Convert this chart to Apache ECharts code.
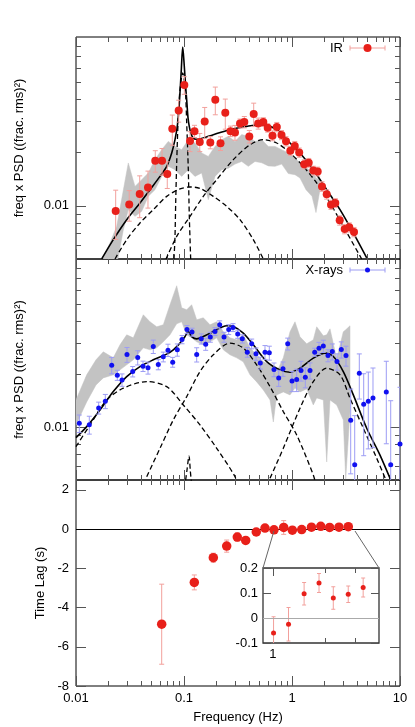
<!DOCTYPE html>
<html><head><meta charset="utf-8">
<script src="https://cdn.jsdelivr.net/npm/echarts@6/dist/echarts.min.js"></script>
<style>html,body{margin:0;padding:0;background:#fff}#c{width:415px;height:727px}</style>
</head><body><div id="c"></div>
<script>
// ---------------- DATA ----------------
// Panel 1: IR power spectrum (freq x PSD)
const irFreq = [0.0233, 0.0311, 0.0389, 0.0464, 0.0542, 0.0626, 0.0700, 0.0779, 0.0893, 0.1007, 0.1137, 0.1251, 0.1400, 0.1555, 0.1752, 0.1949, 0.2178, 0.2412, 0.2695, 0.2966, 0.3301, 0.3618, 0.4024, 0.4419, 0.4864, 0.5424, 0.5957, 0.6596, 0.7233, 0.7995, 0.8800, 0.9645, 1.061, 1.166, 1.297, 1.428, 1.575, 1.730, 1.896, 2.096, 2.297, 2.517, 2.765, 3.076, 3.393, 3.751];
const irPow = [0.00935, 0.01018, 0.01166, 0.0127, 0.01798, 0.01798, 0.01512, 0.02728, 0.03461, 0.04818, 0.02324, 0.0264, 0.02294, 0.02996, 0.02279, 0.03979, 0.02253, 0.0336, 0.0264, 0.02596, 0.02922, 0.02976, 0.02465, 0.03303, 0.02922, 0.02976, 0.02757, 0.02491, 0.02789, 0.02513, 0.02318, 0.02048, 0.0218, 0.02001, 0.01718, 0.01752, 0.01583, 0.01563, 0.01287, 0.0116, 0.01014, 0.01037, 0.00827, 0.00739, 0.00755, 0.00711];
const irErr = [0.0029, 0.0020, 0.0031, 0.0030, 0.0025, 0.0031, 0.0026, 0.0053, 0.0049, 0.0055, 0.0030, 0.0021, 0.0027, 0.0060, 0.0018, 0.0071, 0.0020, 0.0065, 0.0018, 0.0025, 0.0017, 0.0022, 0.0020, 0.0050, 0.0021, 0.0017, 0.0015, 0.0016, 0.0017, 0.0015, 0.0014, 0.0012, 0.0013, 0.0012, 0.0010, 0.0010, 0.0009, 0.0009, 0.0008, 0.0007, 0.0006, 0.0006, 0.0005, 0.00045, 0.00045, 0.00043];
// grey band in panel 1
const band1Freq = [0.01789, 0.02064, 0.02381, 0.02742, 0.03049, 0.03518, 0.04058, 0.04671, 0.05389, 0.06215, 0.07154, 0.08254, 0.09521, 0.1096, 0.1264, 0.1458, 0.1679, 0.1936, 0.2234, 0.2572, 0.2966, 0.3422, 0.3939, 0.4543, 0.524, 0.6035, 0.6961, 0.8028, 0.924, 1.066, 1.186, 1.348, 1.532, 1.668, 1.816];
const band1Lo = [0.0045, 0.0045, 0.0046, 0.0073, 0.0095, 0.00871, 0.0093, 0.0113, 0.01233, 0.01466, 0.0167, 0.016, 0.01466, 0.016, 0.01466, 0.01533, 0.01083, 0.01466, 0.016, 0.0163, 0.0172, 0.0178, 0.0167, 0.0178, 0.0175, 0.0168, 0.0167, 0.0172, 0.0152, 0.01499, 0.01436, 0.01233, 0.0113, 0.00915, 0.01233];
const band1Hi = [0.00518, 0.00616, 0.00765, 0.01223, 0.01746, 0.01287, 0.01405, 0.01533, 0.01823, 0.02075, 0.02312, 0.02166, 0.02075, 0.02363, 0.02265, 0.01989, 0.01902, 0.02166, 0.02363, 0.02468, 0.02312, 0.02525, 0.02468, 0.02312, 0.02363, 0.02166, 0.02166, 0.02075, 0.01989, 0.01863, 0.01746, 0.01643, 0.0156, 0.01436, 0.01405];
// model curves, panel 1
const irModelFreq = [0.0173, 0.02215, 0.02948, 0.03914, 0.04843, 0.05995, 0.06917, 0.07696, 0.08254, 0.08706, 0.09048, 0.09441, 0.09727, 0.1004, 0.1033, 0.1059, 0.1089, 0.112, 0.1161, 0.122, 0.1292, 0.1407, 0.1868, 0.2667, 0.3808, 0.5055, 0.6257, 0.7743, 0.9583, 1.186, 1.575, 2.096, 2.783, 3.695, 4.918];
const irModelPow = [0.005003, 0.00643, 0.00834, 0.01037, 0.01233, 0.01466, 0.0167, 0.01989, 0.02363, 0.02874, 0.03778, 0.05879, 0.07901, 0.06275, 0.04837, 0.03979, 0.03148, 0.028, 0.02555, 0.02417, 0.02376, 0.02385, 0.02523, 0.02693, 0.02811, 0.02874, 0.02811, 0.02634, 0.02265, 0.01989, 0.016, 0.01233, 0.0095, 0.00702, 0.00507];
const irQpoFreq = [0.08082, 0.08254, 0.08377, 0.08558, 0.08854, 0.09183, 0.09727, 0.1028, 0.1059, 0.1096, 0.112, 0.1153];
const irQpoPow = [0.005003, 0.00671, 0.01037, 0.01746, 0.03201, 0.04532, 0.05631, 0.04532, 0.02938, 0.016, 0.00871, 0.005003];
const irLowFreq = [0.02297, 0.02948, 0.03914, 0.05195, 0.06917, 0.09183, 0.1137, 0.1407, 0.1868, 0.2485, 0.3301, 0.4382, 0.5424];
const irLowPow = [0.005, 0.00643, 0.007995, 0.0095, 0.0113, 0.01245, 0.01277, 0.01254, 0.0113, 0.00992, 0.00834, 0.00643, 0.005];
const irHighFreq = [0.06813, 0.08558, 0.1137, 0.1509, 0.2008, 0.2861, 0.4084, 0.5424, 0.7217, 0.9583, 1.272, 1.693, 2.249, 2.985, 4.42];
const irHighPow = [0.005, 0.00671, 0.00871, 0.0113, 0.01405, 0.01823, 0.02215, 0.02363, 0.02265, 0.01989, 0.0167, 0.01345, 0.01037, 0.00765, 0.005];

// Panel 2: X-ray power spectrum
const xrFreq = [0.01073, 0.01328, 0.01622, 0.01868, 0.02141, 0.02412, 0.02667, 0.02966, 0.0335, 0.03727, 0.04173, 0.04642, 0.05195, 0.05781, 0.06431, 0.07109, 0.07859, 0.0867, 0.09583, 0.1066, 0.1186, 0.1311, 0.1446, 0.1588, 0.1752, 0.1936, 0.2141, 0.2347, 0.2594, 0.2843, 0.3143, 0.3466, 0.3856, 0.4235, 0.4642, 0.5087, 0.5623, 0.6164, 0.6813, 0.7531, 0.8254, 0.9124, 1.0, 1.105, 1.212, 1.328, 1.468, 1.623, 1.778, 1.949, 2.154, 2.361, 2.61, 2.861, 3.162, 3.495, 3.808, 4.2, 4.611, 5.087, 5.623, 7.467, 8.203, 10.0];
const xrPow = [0.0105, 0.01031, 0.01284, 0.01401, 0.02245, 0.0197, 0.01852, 0.02579, 0.02065, 0.0248, 0.02216, 0.02167, 0.02865, 0.02263, 0.02503, 0.02733, 0.02335, 0.02744, 0.0314, 0.03579, 0.0346, 0.02579, 0.03169, 0.02956, 0.0324, 0.03486, 0.03806, 0.0324, 0.03579, 0.03674, 0.0337, 0.03169, 0.02661, 0.02968, 0.02603, 0.02313, 0.02661, 0.02637, 0.0212, 0.01901, 0.0214, 0.02968, 0.01828, 0.01859, 0.02092, 0.01919, 0.02092, 0.02661, 0.02805, 0.0288, 0.02546, 0.02683, 0.02353, 0.02754, 0.02546, 0.01092, 0.0061, 0.02021, 0.01347, 0.01401, 0.01463, 0.01583, 0.0061, 0.00801];
const xrErr = [0.0012, 0.0012, 0.0010, 0.0013, 0.0024, 0.0013, 0.0015, 0.0025, 0.0014, 0.0023, 0.0015, 0.0017, 0.0025, 0.0015, 0.0016, 0.0022, 0.0015, 0.0022, 0.0017, 0.0019, 0.0018, 0.0024, 0.0021, 0.0023, 0.0021, 0.0018, 0.0020, 0.0021, 0.0023, 0.0019, 0.0018, 0.0017, 0.0017, 0.0019, 0.0021, 0.0018, 0.0024, 0.0024, 0.0019, 0.0020, 0.0020, 0.0023, 0.0024, 0.0027, 0.0027, 0.0025, 0.0022, 0.0014, 0.0022, 0.0023, 0.0020, 0.0028, 0.0025, 0.0029, 0.0033, 0.0055, 0.0055, 0.0058, 0.0066, 0.0065, 0.0070, 0.0078, 0.0080, 0.0088];
// grey band in panel 2
const band2Freq = [0.01, 0.01256, 0.01532, 0.01789, 0.02215, 0.02555, 0.02948, 0.03393, 0.042, 0.04843, 0.05589, 0.06431, 0.07419, 0.08558, 0.09521, 0.1059, 0.1178, 0.1311, 0.1509, 0.1741, 0.2008, 0.2312, 0.2667, 0.3076, 0.3541, 0.4084, 0.4711, 0.5424, 0.6257, 0.6714, 0.7217, 0.8308, 0.9583, 1.066, 1.186, 1.368, 1.575, 1.693, 1.949, 2.096, 2.249, 2.594, 2.985, 3.143, 3.443];
const band2Lo = [0.01027, 0.01388, 0.01734, 0.01901, 0.01978, 0.02111, 0.02254, 0.02407, 0.02817, 0.02744, 0.02817, 0.03046, 0.03339, 0.03857, 0.03959, 0.03339, 0.03209, 0.03046, 0.0293, 0.03046, 0.03209, 0.02744, 0.0257, 0.02471, 0.02344, 0.01978, 0.01804, 0.01624, 0.01425, 0.01068, 0.01522, 0.01583, 0.01522, 0.01668, 0.01583, 0.01646, 0.01334, 0.01463, 0.01425, 0.00633, 0.01425, 0.01334, 0.01097, 0.00506, 0.01218];
const band2Hi = [0.01425, 0.01978, 0.02407, 0.02673, 0.02471, 0.0293, 0.03339, 0.03209, 0.04339, 0.03959, 0.03708, 0.03806, 0.04947, 0.06343, 0.04754, 0.04632, 0.04947, 0.04064, 0.04172, 0.03806, 0.03959, 0.03473, 0.03209, 0.03127, 0.03339, 0.02817, 0.0257, 0.02344, 0.02254, 0.02167, 0.02056, 0.02471, 0.03473, 0.03959, 0.03253, 0.02968, 0.03127, 0.03708, 0.03295, 0.03339, 0.03612, 0.02439, 0.03473, 0.03565, 0.03757];
// model curves, panel 2
const xrModelFreq = [0.01, 0.01256, 0.01668, 0.02215, 0.02948, 0.03914, 0.05195, 0.06917, 0.0796, 0.09183, 0.1022, 0.1096, 0.1178, 0.1311, 0.1509, 0.1868, 0.2485, 0.2861, 0.3541, 0.4382, 0.5831, 0.7743, 0.9583, 1.186, 1.575, 2.021, 2.413, 2.985, 3.695, 4.918, 6.528, 8.203];
const xrModelPow = [0.0087, 0.01005, 0.0125, 0.01589, 0.01934, 0.02204, 0.02407, 0.02594, 0.02744, 0.02995, 0.03265, 0.03486, 0.03265, 0.03168, 0.03265, 0.03486, 0.03757, 0.03722, 0.03415, 0.0293, 0.02353, 0.02111, 0.02048, 0.02159, 0.0246, 0.02627, 0.02513, 0.02064, 0.01522, 0.00984, 0.00693, 0.005];
const xrLowFreq = [0.01, 0.01348, 0.01924, 0.02742, 0.04516, 0.06917, 0.09851, 0.1407, 0.2008, 0.2966, 0.318];
const xrLowPow = [0.00773, 0.01027, 0.01425, 0.01661, 0.01811, 0.01696, 0.01334, 0.01027, 0.00757, 0.00522, 0.0045];
const xrMidFreq = [0.04516, 0.05995, 0.0796, 0.1059, 0.1407, 0.1868, 0.2667, 0.3541, 0.4711, 0.6257, 0.8308, 1.105, 1.575, 1.668];
const xrMidPow = [0.00522, 0.00757, 0.01097, 0.01488, 0.02065, 0.0257, 0.02995, 0.02805, 0.02254, 0.01696, 0.01223, 0.00901, 0.00534, 0.0047];
const xrHighFreq = [0.6257, 0.8308, 1.186, 1.575, 2.096, 2.783, 3.443, 4.573, 6.086, 7.532];
const xrHighPow = [0.00511, 0.00757, 0.01278, 0.01811, 0.02159, 0.01978, 0.01457, 0.00984, 0.00664, 0.00489];
const xrQpoFreq = [0.1012, 0.1066, 0.1113, 0.1145, 0.1186];
const xrQpoPow = [0.0045, 0.0057, 0.00684, 0.0056, 0.0045];

// Panel 3: time lags
const lagFreq = [0.06215, 0.1246, 0.1868, 0.2485, 0.3115, 0.3726, 0.4669, 0.5623, 0.6813, 0.8377, 1.008, 1.23, 1.514, 1.846, 2.232, 2.723, 3.321];
const lagVal = [-4.85, -2.72, -1.46, -0.87, -0.41, -0.58, -0.15, 0.05, -0.04, 0.08, -0.06, -0.025, 0.097, 0.14, 0.08, 0.095, 0.122];
const lagErr = [2.04, 0.38, 0.23, 0.31, 0.21, 0.15, 0.10, 0.08, 0.08, 0.35, 0.065, 0.067, 0.045, 0.038, 0.045, 0.033, 0.038];

// axis ranges and ticks
const xRange = [0.01, 10];
const psdRange = [0.005, 0.09];
const lagRange = [-8, 2.5];
const insetXRange = [0.876, 4.1];
const insetYRange = [-0.1, 0.2];
const insetZoomFreq = [0.68, 3.83];
const insetZoomLag = -0.1;
const xMajorTicks = [0.01, 0.1, 1, 10];
const xMinorTicks = [0.02, 0.03, 0.04, 0.05, 0.06, 0.07, 0.08, 0.09, 0.2, 0.3, 0.4, 0.5, 0.6, 0.7, 0.8, 0.9, 2, 3, 4, 5, 6, 7, 8, 9];
const xTickLabels = [0.01, 0.1, 1, 10];
const psdMajorTicks = [0.01];
const psdMinorTicks = [0.006, 0.007, 0.008, 0.009, 0.02, 0.03, 0.04, 0.05, 0.06, 0.07, 0.08];
const psdTickLabels = [0.01];
const lagTicks = [-8, -6, -4, -2, 0, 2];
const insetXMajor = [1];
const insetXMinor = [2, 3];
const insetXLabels = [1];
const insetYTicks = [-0.1, 0, 0.1, 0.2];

// ---------------- CHART ----------------
const FONT = "'Liberation Sans', Arial, Helvetica, sans-serif";
const TICK = '#555';
const RED = '#e8201a', RED_ERR = '#f2a09c';
const BLUE = '#1010f0', BLUE_ERR = '#9c9cf4';
const GREY = '#c3c3c3';
const L = Math.log10;
const fmtPow = v => String(parseFloat(Math.pow(10, v).toPrecision(6)));
const fmtLin = v => String(parseFloat(Number(v).toPrecision(6)));

const xAxis = [], yAxis = [];
const dataX = [], dataY = [];

function tickAx(gridIndex, range, position, values, len, extra) {
  const ax = {
    type: 'value', gridIndex, min: range[0], max: range[1], position,
    axisLine: {show: false, onZero: false},
    splitLine: {show: false}, splitArea: {show: false}, minorTick: {show: false},
    axisTick: {show: true, inside: true, length: len, customValues: values, lineStyle: {color: TICK, width: 1}},
    axisLabel: {show: false},
    silent: true
  };
  return Object.assign(ax, extra || {});
}
function labelOpt(values, fmt, margin) {
  return {show: true, customValues: values, formatter: fmt, margin, fontSize: 13, fontFamily: FONT, color: '#000'};
}
const nameStyle = {fontSize: 13, fontFamily: FONT, color: '#000'};

const grids = [
  {left: 76, top: 37, width: 324, height: 222},
  {left: 76, top: 259, width: 324, height: 221},
  {left: 76, top: 480, width: 324, height: 206},
  {left: 263, top: 568, width: 116, height: 75}
].map((g, i) => Object.assign(g, {
  show: true, borderColor: i === 3 ? '#333' : '#000', borderWidth: i === 3 ? 1.3 : 1,
  backgroundColor: i === 3 ? '#fff' : 'transparent', containLabel: false, outerBoundsMode: 'none'
}));

const xr = xRange.map(L);
for (let g = 0; g < 3; g++) {
  dataX[g] = xAxis.push({type: 'log', gridIndex: g, min: xRange[0], max: xRange[1], show: false}) - 1;
  xAxis.push(tickAx(g, xr, 'bottom', xMajorTicks.map(L), 10, g === 2 ? {
    axisLabel: labelOpt(xTickLabels.map(L), fmtPow, 6),
    name: 'Frequency (Hz)', nameLocation: 'middle', nameGap: 25, nameTextStyle: nameStyle
  } : null));
  xAxis.push(tickAx(g, xr, 'bottom', xMinorTicks.map(L), 5));
  xAxis.push(tickAx(g, xr, 'top', xMajorTicks.map(L), 10));
  xAxis.push(tickAx(g, xr, 'top', xMinorTicks.map(L), 5));
}
const pr = psdRange.map(L);
for (let g = 0; g < 2; g++) {
  dataY[g] = yAxis.push({type: 'log', gridIndex: g, min: psdRange[0], max: psdRange[1], show: false}) - 1;
  yAxis.push(tickAx(g, pr, 'left', psdMajorTicks.map(L), 10, {
    axisLabel: labelOpt(psdTickLabels.map(L), fmtPow, 7),
    name: 'freq x PSD ((frac. rms)\u00b2)', nameLocation: 'middle', nameGap: 50, nameTextStyle: nameStyle
  }));
  yAxis.push(tickAx(g, pr, 'left', psdMinorTicks.map(L), 5));
  yAxis.push(tickAx(g, pr, 'right', psdMajorTicks.map(L), 10));
  yAxis.push(tickAx(g, pr, 'right', psdMinorTicks.map(L), 5));
}
dataY[2] = yAxis.push({type: 'value', gridIndex: 2, min: lagRange[0], max: lagRange[1], show: false, axisLine: {onZero: false}}) - 1;
yAxis.push(tickAx(2, lagRange, 'left', lagTicks, 10, {
  axisLabel: labelOpt(lagTicks, fmtLin, 7),
  name: 'Time Lag (s)', nameLocation: 'middle', nameGap: 29, nameTextStyle: nameStyle
}));
yAxis.push(tickAx(2, lagRange, 'right', lagTicks, 10));
// inset
const ixr = insetXRange.map(L);
dataX[3] = xAxis.push({type: 'log', gridIndex: 3, min: insetXRange[0], max: insetXRange[1], show: false}) - 1;
xAxis.push(tickAx(3, ixr, 'bottom', insetXMajor.map(L), 8, {axisLabel: labelOpt(insetXLabels.map(L), fmtPow, 5)}));
xAxis.push(tickAx(3, ixr, 'bottom', insetXMinor.map(L), 5));
xAxis.push(tickAx(3, ixr, 'top', insetXMajor.map(L), 8));
xAxis.push(tickAx(3, ixr, 'top', insetXMinor.map(L), 5));
dataY[3] = yAxis.push({type: 'value', gridIndex: 3, min: insetYRange[0], max: insetYRange[1], show: false, axisLine: {onZero: false}}) - 1;
yAxis.push(tickAx(3, insetYRange, 'left', insetYTicks, 8, {axisLabel: labelOpt(insetYTicks, fmtLin, 5)}));
yAxis.push(tickAx(3, insetYRange, 'right', insetYTicks, 8));

const ax = g => ({xAxisIndex: dataX[g], yAxisIndex: dataY[g]});
const pairs = (a, b) => a.map((v, i) => [v, b[i]]);

function bandSeries(g, fArr, loArr, hiArr) {
  return Object.assign({
    type: 'custom', clip: true, silent: true, z: 1,
    data: [[fArr[0], hiArr[0]]],
    renderItem(params, api) {
      const pts = [];
      for (let i = 0; i < fArr.length; i++) pts.push(api.coord([fArr[i], hiArr[i]]));
      for (let i = fArr.length - 1; i >= 0; i--) pts.push(api.coord([fArr[i], loArr[i]]));
      return {type: 'polygon', shape: {points: pts}, style: {fill: GREY, stroke: GREY, lineWidth: 0.5}};
    }
  }, ax(g));
}
function curve(g, fArr, pArr, dashed) {
  return Object.assign({
    type: 'line', data: pairs(fArr, pArr), showSymbol: false, symbol: 'none', smooth: 0.3,
    clip: true, silent: true, z: 3,
    lineStyle: {color: '#000', width: dashed ? 1.3 : 1.6, type: dashed ? [5, 3] : 'solid'}
  }, ax(g));
}
function errSeries(g, fArr, vArr, eArr, color, cap, isLog) {
  return Object.assign({
    type: 'custom', clip: true, silent: true, z: 4,
    data: fArr.map((f, i) => [f, vArr[i], eArr[i]]),
    renderItem(params, api) {
      const f = api.value(0), v = api.value(1), e = api.value(2);
      const lowV = isLog ? Math.max(v - e, 1e-5) : v - e;
      const t = api.coord([f, v + e]), b = api.coord([f, lowV]);
      const st = {stroke: color, lineWidth: 1};
      return {type: 'group', children: [
        {type: 'line', shape: {x1: t[0], y1: t[1], x2: b[0], y2: b[1]}, style: st},
        {type: 'line', shape: {x1: t[0] - cap, y1: t[1], x2: t[0] + cap, y2: t[1]}, style: st},
        {type: 'line', shape: {x1: b[0] - cap, y1: b[1], x2: b[0] + cap, y2: b[1]}, style: st}
      ]};
    }
  }, ax(g));
}
function dots(g, fArr, vArr, color, size, extra) {
  return Object.assign({
    type: 'scatter', data: pairs(fArr, vArr), symbol: 'circle', symbolSize: size,
    itemStyle: {color, opacity: 1}, clip: true, silent: true, z: 5
  }, ax(g), extra || {});
}

const series = [];
// panel 1
series.push(bandSeries(0, band1Freq, band1Lo, band1Hi));
series.push(curve(0, irLowFreq, irLowPow, true));
series.push(curve(0, irQpoFreq, irQpoPow, true));
series.push(curve(0, irHighFreq, irHighPow, true));
series.push(curve(0, irModelFreq, irModelPow, false));
series.push(errSeries(0, irFreq, irPow, irErr, RED_ERR, 2.5, true));
series.push(dots(0, irFreq, irPow, RED, 8));
// panel 2
series.push(bandSeries(1, band2Freq, band2Lo, band2Hi));
series.push(curve(1, xrLowFreq, xrLowPow, true));
series.push(curve(1, xrMidFreq, xrMidPow, true));
series.push(curve(1, xrHighFreq, xrHighPow, true));
series.push(curve(1, xrQpoFreq, xrQpoPow, true));
series.push(curve(1, xrModelFreq, xrModelPow, false));
series.push(errSeries(1, xrFreq, xrPow, xrErr, BLUE_ERR, 2.5, true));
series.push(dots(1, xrFreq, xrPow, BLUE, 5));
// panel 3
series.push(errSeries(2, lagFreq, lagVal, lagErr, RED_ERR, 2.5, false));
const lagSeriesIndex = series.push(dots(2, lagFreq, lagVal, RED, 9.5, {
  markLine: {silent: true, symbol: 'none', animation: false, label: {show: false},
    lineStyle: {color: '#000', width: 1, type: 'solid'}, data: [{yAxis: 0}]}
})) - 1;
// inset
const inIdx = lagFreq.map((f, i) => i).filter(i => lagFreq[i] >= insetXRange[0] && lagFreq[i] <= insetXRange[1]);
const inF = inIdx.map(i => lagFreq[i]), inV = inIdx.map(i => lagVal[i]), inE = inIdx.map(i => lagErr[i]);
series.push(errSeries(3, inF, inV, inE, RED_ERR, 2, false));
const insetSeriesIndex = series.push(dots(3, inF, inV, RED, 5, {
  z: 6,
  markLine: {silent: true, symbol: 'none', animation: false, label: {show: false},
    lineStyle: {color: '#aaa', width: 1, type: 'solid'}, data: [{yAxis: 0}]}
})) - 1;
series.forEach(s => { s.animation = false; });

// legend drawn as graphic (gnuplot style sample with horizontal bar)
function legendItem(id, label, y, color, errColor, r) {
  const st = {stroke: errColor, lineWidth: 1};
  return [
    {id: id + 't', type: 'text', x: 343, y, style: {text: label, font: '13px ' + FONT, fill: '#000', textAlign: 'right', textVerticalAlign: 'middle'}, z: 20},
    {id: id + 'l', type: 'line', shape: {x1: 350, y1: y, x2: 385, y2: y}, style: st, z: 20},
    {id: id + 'c1', type: 'line', shape: {x1: 350, y1: y - 2.5, x2: 350, y2: y + 2.5}, style: st, z: 20},
    {id: id + 'c2', type: 'line', shape: {x1: 385, y1: y - 2.5, x2: 385, y2: y + 2.5}, style: st, z: 20},
    {id: id + 'd', type: 'circle', shape: {cx: 367.5, cy: y, r}, style: {fill: color}, z: 21}
  ];
}

const option = {
  animation: false,
  textStyle: {fontFamily: FONT},
  grid: grids,
  xAxis, yAxis, series,
  graphic: [].concat(legendItem('ir', 'IR', 48, RED, RED_ERR, 4), legendItem('xr', 'X-rays', 270, BLUE, BLUE_ERR, 2.5))
};
const chart = echarts.init(document.getElementById('c'), null, {renderer: 'canvas', width: 415, height: 727});
chart.setOption(option);

// zoom connector lines between main lag panel and inset
const a0 = chart.convertToPixel({seriesIndex: lagSeriesIndex}, [insetZoomFreq[0], insetZoomLag]);
const a1 = chart.convertToPixel({seriesIndex: lagSeriesIndex}, [insetZoomFreq[1], insetZoomLag]);
const b0 = chart.convertToPixel({seriesIndex: insetSeriesIndex}, [insetXRange[0], insetYRange[1]]);
const b1 = chart.convertToPixel({seriesIndex: insetSeriesIndex}, [insetXRange[1], insetYRange[1]]);
chart.setOption({graphic: [
  {id: 'zl0', type: 'line', shape: {x1: a0[0], y1: a0[1], x2: b0[0], y2: b0[1]}, style: {stroke: '#666', lineWidth: 1}, z: 10},
  {id: 'zl1', type: 'line', shape: {x1: a1[0], y1: a1[1], x2: b1[0], y2: b1[1]}, style: {stroke: '#666', lineWidth: 1}, z: 10}
]});
</script>
</body></html>
